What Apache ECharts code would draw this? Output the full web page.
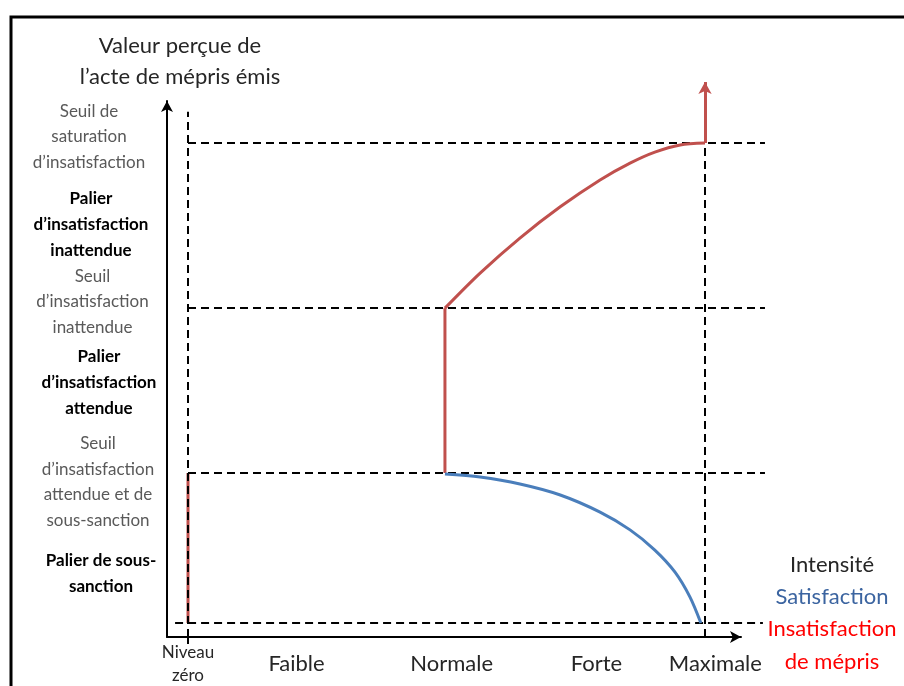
<!DOCTYPE html>
<html>
<head>
<meta charset="utf-8">
<script src="https://cdn.jsdelivr.net/npm/echarts@6/dist/echarts.min.js"></script>
<style>html,body{margin:0;padding:0;background:#fff;}#c{width:904px;height:686px;}</style>
</head>
<body>
<div id="c"></div>
<script>
// ---- data ----
const intensityLabels = ['Niveau\nzéro', 'Faible', 'Normale', 'Forte', 'Maximale'];
const intensityPos = [0, 21, 51, 79, 102];

const yLabelTexts = [
  'Seuil de\nsaturation\nd’insatisfaction',
  'Palier\nd’insatisfaction\ninattendue',
  'Seuil\nd’insatisfaction\ninattendue',
  'Palier\nd’insatisfaction\nattendue',
  'Seuil\nd’insatisfaction\nattendue et de\nsous-sanction',
  'Palier de sous-\nsanction'
];
const yLabelPos = [101.3, 83.1, 66.9, 50, 29.4, 10.4];
const yLabelBold = [false, true, false, true, false, true];

const thresholdValues = [0, 31.25, 65.6, 100];
const thresholdStart = [-2.5, 0, 0, 0];
const thresholdEnd = [111.2, 111.6, 111.6, 111.6];

const vLineX = [0, 100];
const vLineTop = [106.5, 110];

const redLeftX = [0, 0];
const redLeftY = [0, 31.25];
const redJumpX = [49.7, 49.7];
const redJumpY = [31.25, 65.6];
const redCurveX = [49.7, 56.5, 64.2, 72.0, 79.7, 85.5, 90.3, 95.2, 100];
const redCurveY = [65.6, 72.9, 80.2, 86.7, 92.3, 95.8, 98.1, 99.6, 100];
const redArrowX = [100, 100];
const redArrowY = [100, 112.7];

const blueX = [49.7, 56.5, 64.2, 72.0, 79.7, 85.5, 90.3, 94.2, 97.1, 99.2];
const blueY = [31.04, 30.4, 28.96, 26.67, 23.1, 19.4, 15.2, 10.6, 5.4, 0];

// ---- chart ----
const FONT = 'Lato';
const RED = '#c0504d';
const BLUE = '#4a7ebb';
const zip = (xs, ys) => xs.map((x, i) => [x, ys[i]]);
const dashStyle = { color: '#000', width: 2, type: [8, 5] };
const PX_X = 5.17, PX_Y = 4.8;            // pixels per data unit (shared by both grids)
const X0 = -4.062, Y0 = -2.917;           // axis origin values
const labelShift = [-6, -4, -2.5, 4, 3, 6];

const ov = { xAxisIndex: 1, yAxisIndex: 1, clip: false };
const series = [];
thresholdValues.forEach((v, i) => {
  series.push(Object.assign({ type: 'line', data: [[thresholdStart[i], v], [thresholdEnd[i], v]], symbol: 'none',
    lineStyle: dashStyle, silent: true, z: 3 }, ov));
});
vLineX.forEach((x, i) => {
  series.push(Object.assign({ type: 'line', data: [[x, Y0], [x, vLineTop[i]]], symbol: 'none',
    lineStyle: dashStyle, silent: true, z: 3 }, ov));
});
series.push(Object.assign({ type: 'line', data: zip(redLeftX, redLeftY), symbol: 'none', lineStyle: { color: RED, width: 3 }, z: 2 }, ov));
series.push(Object.assign({ type: 'line', data: zip(redJumpX, redJumpY), symbol: 'none', lineStyle: { color: RED, width: 3 }, z: 4 }, ov));
series.push(Object.assign({ type: 'line', data: zip(redCurveX, redCurveY), symbol: 'none', smooth: 0.3,
  lineStyle: { color: RED, width: 3 }, z: 4 }, ov));
series.push(Object.assign({ type: 'line', data: zip(redArrowX, redArrowY), symbol: 'none', lineStyle: { color: RED, width: 0, opacity: 0 }, z: 4,
  markLine: { silent: true, symbol: ['none', 'arrow'], symbolSize: [10, 12], label: { show: false },
    lineStyle: { color: RED, width: 3, type: 'solid' },
    data: [[{ coord: [redArrowX[0], redArrowY[0]] }, { coord: [redArrowX[1], redArrowY[1]] }]] } }, ov));
series.push(Object.assign({ type: 'line', data: zip(blueX, blueY), symbol: 'none', smooth: 0.3,
  lineStyle: { color: BLUE, width: 3 }, z: 4 }, ov));

const W = 904, H = 686;
const g0 = { left: 167, right: 163, top: 101, bottom: 49 };
const g1 = { left: 167, right: 104, top: 60, bottom: 49 };
const span = (g, horiz) => (horiz ? (W - g.left - g.right) / PX_X : (H - g.top - g.bottom) / PX_Y);

const yRich = {};
labelShift.forEach((s, i) => {
  const pad = s < 0 ? [0, -2 * s, 0, 0] : [0, 0, 0, 2 * s];
  yRich['s' + i] = { fontFamily: FONT, fontSize: 17, color: '#595959', lineHeight: 25.5, align: 'center', padding: pad };
  yRich['p' + i] = { fontFamily: FONT, fontSize: 17, fontWeight: 'bold', color: '#000', lineHeight: 26, align: 'center', padding: pad };
});

const chart = echarts.init(document.getElementById('c'), null, { renderer: 'canvas' });
chart.setOption({
  animation: false,
  backgroundColor: '#fff',
  grid: [Object.assign({ containLabel: false }, g0), Object.assign({ containLabel: false }, g1)],
  xAxis: [{
    type: 'value', gridIndex: 0, min: X0, max: X0 + span(g0, true),
    splitLine: { show: false },
    axisLine: { show: true, onZero: false, symbol: ['none', 'arrow'], symbolSize: [9, 11], lineStyle: { color: '#000', width: 2 } },
    axisTick: { show: true, customValues: [0], length: 7, lineStyle: { color: '#000', width: 2 } },
    axisLabel: {
      customValues: intensityPos, margin: 27, verticalAlign: 'middle',
      formatter: (v) => {
        const i = intensityPos.findIndex(p => Math.abs(p - v) < 1e-6);
        if (i < 0) return '';
        const style = i === 0 ? 'n' : 'b';
        return intensityLabels[i].split('\n').map(l => `{${style}|${l}}`).join('\n');
      },
      rich: {
        n: { fontFamily: FONT, fontSize: 17, color: '#262626', lineHeight: 23, align: 'center' },
        b: { fontFamily: FONT, fontSize: 22, color: '#262626', lineHeight: 26, align: 'center' }
      }
    }
  }, {
    type: 'value', gridIndex: 1, min: X0, max: X0 + span(g1, true), show: false
  }],
  yAxis: [{
    type: 'value', gridIndex: 0, min: Y0, max: Y0 + span(g0, false),
    splitLine: { show: false },
    axisLine: { show: true, onZero: false, symbol: ['none', 'arrow'], symbolSize: [9, 11], lineStyle: { color: '#000', width: 2 } },
    axisTick: { show: false },
    axisLabel: {
      customValues: yLabelPos, margin: 72, align: 'center',
      formatter: (v) => {
        const i = yLabelPos.findIndex(p => Math.abs(p - v) < 1e-6);
        if (i < 0) return '';
        const style = (yLabelBold[i] ? 'p' : 's') + i;
        return yLabelTexts[i].split('\n').map(l => `{${style}|${l}}`).join('\n');
      },
      rich: yRich
    }
  }, {
    type: 'value', gridIndex: 1, min: Y0, max: Y0 + span(g1, false), show: false
  }],
  graphic: [
    { type: 'rect', silent: true, shape: { x: 11, y: 17, width: 1000, height: 1000 },
      style: { fill: 'none', stroke: '#000', lineWidth: 3 } },
    { type: 'text', silent: true, x: 180, y: 61,
      style: { text: 'Valeur perçue de\nl’acte de mépris émis', font: '22px ' + FONT, lineHeight: 31,
        fill: '#262626', align: 'center', verticalAlign: 'middle' } },
    { type: 'text', silent: true, x: 832, y: 565,
      style: { text: 'Intensité', font: '22px ' + FONT, fill: '#262626', align: 'center', verticalAlign: 'middle' } },
    { type: 'text', silent: true, x: 832, y: 597,
      style: { text: 'Satisfaction', font: '22px ' + FONT, fill: '#3b64a0', align: 'center', verticalAlign: 'middle' } },
    { type: 'text', silent: true, x: 832, y: 612,
      style: { text: 'Insatisfaction\nde mépris', font: '22px ' + FONT, lineHeight: 33, fill: '#ff0000',
        align: 'center', verticalAlign: 'top' } }
  ],
  series: series
});
</script>
</body>
</html>
